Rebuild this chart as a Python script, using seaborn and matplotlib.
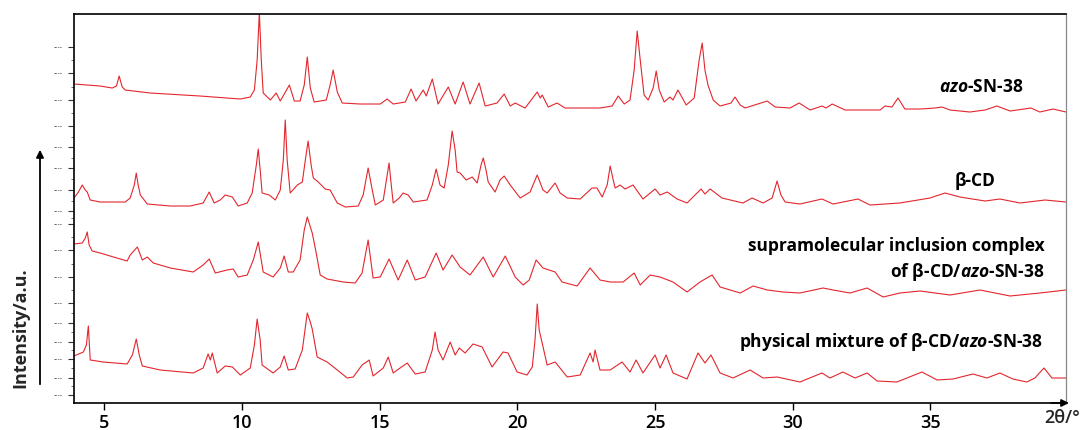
import matplotlib
matplotlib.use("Agg")
import matplotlib.pyplot as plt
import pandas as pd
import seaborn as sns

# ---- XRD patterns (2θ in degrees, intensity in counts) ----
two_theta_azo = [3.9, 4.85, 5.29, 5.44, 5.54, 5.65, 5.76, 6.67, 8.48, 9.94, 10.30, 10.45, 10.55, 10.63,
                 10.70, 10.77, 11.03, 11.24, 11.39, 11.72, 11.90, 12.11, 12.26, 12.37, 12.48, 12.62, 13.06,
                 13.20, 13.31, 13.46, 13.64, 14.29, 15.02, 15.27, 15.49, 15.93, 16.14, 16.32, 16.58, 16.69,
                 16.91, 17.12, 17.49, 17.74, 18.03, 18.28, 18.61, 18.83, 19.26, 19.52, 19.74, 19.92, 20.28,
                 20.72, 20.83, 20.90, 21.12, 21.44, 21.73, 23.00, 23.44, 23.66, 23.88, 24.09, 24.24, 24.35,
                 24.46, 24.60, 24.75, 24.93, 25.04, 25.15, 25.33, 25.54, 25.65, 25.83, 26.13, 26.42, 26.60,
                 26.71, 26.81, 26.92, 27.11, 27.36, 27.76, 27.90, 28.09, 28.27, 29.07, 29.36, 29.90, 30.23,
                 30.63, 31.06, 31.21, 31.43, 31.90, 33.17, 33.35, 33.60, 33.82, 34.07, 34.62, 35.16, 35.42,
                 35.71, 36.43, 36.98, 37.41, 37.89, 38.65, 38.97, 39.45, 39.92]
intensity_azo = [310, 290, 270, 290, 390, 280, 250, 220, 190, 160, 180, 250, 550, 1030,
                 550, 220, 150, 220, 140, 300, 140, 140, 300, 580, 270, 130, 150,
                 300, 450, 230, 120, 110, 110, 160, 110, 130, 260, 140, 250, 190,
                 360, 110, 280, 110, 330, 110, 320, 90, 120, 210, 90, 120, 70,
                 230, 170, 200, 80, 120, 70, 70, 90, 190, 110, 150, 450, 840,
                 550, 200, 150, 270, 440, 250, 130, 180, 150, 250, 100, 170, 550,
                 720, 450, 300, 150, 90, 120, 180, 100, 70, 140, 80, 70, 120,
                 50, 90, 70, 110, 50, 50, 90, 80, 170, 60, 60, 70, 80,
                 50, 30, 50, 90, 40, 70, 30, 60, 30]

two_theta_bcd = [3.9, 4.06, 4.20, 4.31, 4.38, 4.49, 4.85, 5.76, 5.94, 6.09, 6.16, 6.23, 6.31, 6.56, 7.40,
                 8.12, 8.59, 8.81, 8.99, 9.21, 9.39, 9.65, 9.86, 10.19, 10.37, 10.52, 10.59, 10.66, 10.73,
                 10.99, 11.21, 11.39, 11.50, 11.57, 11.64, 11.75, 12.01, 12.19, 12.30, 12.40, 12.51, 12.59,
                 12.77, 13.02, 13.20, 13.46, 13.75, 14.22, 14.40, 14.58, 14.73, 14.84, 15.13, 15.27, 15.34,
                 15.42, 15.49, 15.71, 15.85, 16.03, 16.22, 16.72, 16.91, 17.05, 17.19, 17.34, 17.49, 17.63,
                 17.74, 17.81, 17.92, 18.14, 18.36, 18.54, 18.68, 18.76, 18.86, 18.94, 19.19, 19.37, 19.52,
                 19.74, 20.10, 20.46, 20.72, 20.93, 21.08, 21.37, 21.55, 21.81, 22.28, 22.71, 22.89, 23.08,
                 23.26, 23.37, 23.48, 23.55, 23.73, 23.91, 24.20, 24.56, 25.00, 25.18, 25.44, 25.80, 26.16,
                 26.67, 26.81, 27.00, 27.43, 28.19, 28.52, 28.92, 29.25, 29.43, 29.57, 29.72, 30.26, 31.06,
                 31.46, 32.37, 32.80, 33.89, 34.98, 35.53, 36.07, 36.98, 37.52, 38.25, 39.16, 39.92]
intensity_bcd = [120, 180, 250, 200, 180, 100, 80, 80, 120, 250, 370, 250, 150, 60, 40,
                 40, 70, 180, 70, 100, 150, 130, 40, 70, 170, 450, 610, 400, 170,
                 150, 100, 200, 500, 900, 500, 170, 250, 280, 500, 690, 450, 320,
                 280, 210, 200, 70, 30, 40, 150, 420, 200, 50, 100, 350, 470,
                 250, 70, 120, 170, 150, 80, 100, 250, 410, 250, 220, 450, 790,
                 600, 380, 370, 300, 330, 270, 450, 520, 400, 280, 180, 300, 340,
                 250, 120, 180, 350, 200, 170, 270, 170, 120, 110, 220, 220, 130,
                 250, 440, 300, 220, 250, 210, 250, 110, 210, 150, 180, 110, 70,
                 210, 160, 210, 120, 70, 120, 70, 120, 290, 150, 80, 60, 110,
                 60, 110, 50, 70, 120, 170, 130, 90, 110, 70, 100, 80]

two_theta_complex = [3.9, 4.20, 4.31, 4.38, 4.45, 4.56, 4.85, 5.33, 5.83, 5.94, 6.20, 6.38, 6.56, 6.78,
                     7.40, 8.23, 8.59, 8.81, 9.03, 9.46, 9.68, 9.86, 10.19, 10.41, 10.59, 10.77, 11.13,
                     11.39, 11.53, 11.68, 11.86, 12.11, 12.26, 12.37, 12.55, 12.66, 12.84, 13.09, 13.68,
                     14.11, 14.36, 14.58, 14.76, 15.02, 15.34, 15.67, 16.00, 16.29, 16.65, 17.05, 17.30,
                     17.63, 17.92, 18.28, 18.76, 19.12, 19.56, 19.92, 20.21, 20.43, 20.68, 20.93, 21.37,
                     21.62, 22.17, 22.64, 23.00, 23.37, 23.84, 24.24, 24.46, 24.82, 25.18, 25.65, 26.16,
                     26.63, 27.07, 27.36, 28.09, 28.56, 29.07, 29.65, 30.26, 31.10, 31.46, 32.08, 32.70,
                     33.28, 33.89, 34.62, 35.71, 36.80, 37.89, 38.97, 39.92]
intensity_complex = [560, 570, 620, 680, 550, 490, 470, 430, 390, 450, 530, 400, 430, 370,
                     320, 280, 350, 410, 270, 300, 310, 230, 250, 400, 580, 280, 230,
                     320, 440, 280, 280, 400, 700, 830, 670, 520, 250, 210, 180,
                     170, 270, 600, 220, 230, 410, 200, 400, 200, 230, 470, 300,
                     450, 330, 250, 430, 230, 440, 230, 150, 200, 400, 320, 280,
                     180, 140, 320, 200, 180, 180, 270, 150, 250, 230, 180, 80,
                     180, 250, 130, 70, 140, 100, 80, 70, 120, 100, 70, 120,
                     30, 70, 90, 50, 100, 40, 70, 100]

two_theta_mix = [3.9, 4.24, 4.35, 4.42, 4.49, 4.96, 5.83, 6.02, 6.16, 6.27, 6.38, 7.03, 8.23, 8.59, 8.77,
                 8.85, 8.92, 9.10, 9.39, 9.65, 9.94, 10.30, 10.45, 10.55, 10.66, 10.73, 11.13, 11.39, 11.53,
                 11.68, 11.93, 12.19, 12.37, 12.48, 12.55, 12.73, 13.09, 13.46, 13.82, 14.04, 14.36, 14.62,
                 14.76, 15.13, 15.31, 15.49, 15.74, 16.00, 16.29, 16.65, 16.91, 17.01, 17.12, 17.30, 17.56,
                 17.74, 17.89, 18.10, 18.39, 18.72, 19.08, 19.48, 19.66, 19.99, 20.35, 20.54, 20.64, 20.72,
                 20.79, 20.90, 21.08, 21.37, 21.81, 22.28, 22.64, 22.75, 22.82, 23.00, 23.37, 23.80, 24.09,
                 24.31, 24.56, 25.00, 25.18, 25.40, 25.65, 26.16, 26.56, 26.81, 27.03, 27.36, 27.83, 28.45,
                 28.92, 29.43, 30.26, 31.06, 31.35, 31.82, 32.26, 32.70, 33.06, 33.78, 34.69, 35.24, 35.82,
                 36.54, 37.05, 37.52, 37.99, 38.50, 38.79, 39.12, 39.41, 39.92]
intensity_mix = [290, 330, 400, 590, 250, 230, 210, 300, 460, 300, 190, 150, 120, 170, 310,
                 250, 320, 120, 190, 180, 100, 170, 400, 660, 450, 200, 120, 180, 290,
                 150, 160, 350, 720, 630, 560, 280, 230, 150, 70, 80, 200, 250,
                 90, 170, 280, 120, 170, 220, 110, 130, 350, 530, 350, 250, 430,
                 300, 370, 320, 410, 380, 180, 330, 320, 130, 100, 180, 450, 810,
                 550, 420, 200, 230, 80, 100, 320, 230, 350, 150, 150, 230, 130,
                 250, 120, 300, 170, 300, 120, 60, 320, 220, 300, 120, 70, 150,
                 70, 80, 30, 120, 70, 130, 70, 120, 40, 30, 130, 50, 60,
                 110, 70, 120, 60, 30, 70, 170, 70, 70]

sample_names = ["azo-SN-38", "β-CD", "inclusion complex", "physical mixture"]
stack_offsets = [2880, 1930, 1030, 180]

x_ticks = [5, 10, 15, 20, 25, 30, 35]
y_major_ticks = [3560, 3300, 3030, 2770, 2560, 2350, 2130, 1920,
                 1790, 1530, 1260, 1000, 800, 610, 440, 250, 80]

# ---- long-form table of the stacked traces ----
frames = []
for name, tt, inten, off in zip(sample_names,
                                [two_theta_azo, two_theta_bcd, two_theta_complex, two_theta_mix],
                                [intensity_azo, intensity_bcd, intensity_complex, intensity_mix],
                                stack_offsets):
    frames.append(pd.DataFrame({"sample": name, "two_theta": tt,
                                "shifted": [v + off for v in inten]}))
patterns = pd.concat(frames, ignore_index=True)

sns.set_style("ticks")
plt.rcParams["font.family"] = ["Open Sans", "DejaVu Sans"]
plt.rcParams["mathtext.fontset"] = "custom"
plt.rcParams["mathtext.it"] = "Open Sans:italic:bold"
plt.rcParams["mathtext.rm"] = "Open Sans:bold"

RED = "#e3262d"

fig = plt.figure(figsize=(10.82, 4.30), dpi=100)
ax = fig.add_axes([0.0684, 0.0628, 0.9168, 0.9046])

for name in sample_names:
    sns.lineplot(data=patterns[patterns["sample"] == name], x="two_theta", y="shifted",
                 sort=False, estimator=None, color=RED, lw=0.8, ax=ax)

ax.set_xlim(3.9, 39.92)
ax.set_ylim(0, 3890)
ax.set_xlabel("")
ax.set_ylabel("")

# x axis
ax.set_xticks(x_ticks)
ax.tick_params(axis="x", which="major", length=5, width=1.0, direction="out",
               labelsize=13, pad=3, colors="black")
for lab in ax.get_xticklabels():
    lab.set_fontweight("semibold")

# y axis: stacked sub-scales with tiny marks
ax.set_yticks(y_major_ticks)
ax.set_yticklabels(["----"] * len(y_major_ticks))
minor = [(a + b) / 2 for a, b in zip(y_major_ticks[:-1], y_major_ticks[1:])]
ax.set_yticks(minor, minor=True)
ax.tick_params(axis="y", which="major", length=4, width=0.8, direction="out",
               labelsize=5, labelcolor="#333333", color="#333333", pad=4)
ax.tick_params(axis="y", which="minor", length=2.5, width=0.6, direction="out", color="#555555")

for side in ["left", "bottom", "top"]:
    ax.spines[side].set_color("black")
    ax.spines[side].set_linewidth(1.2)
ax.spines["right"].set_color("#888888")
ax.spines["right"].set_linewidth(0.9)

# arrow head on the 2θ axis
ax.annotate("", xy=(1.003, 0), xytext=(0.985, 0), xycoords="axes fraction",
            arrowprops=dict(arrowstyle="-|>", color="black", lw=1.2, mutation_scale=11,
                            shrinkA=0, shrinkB=0), annotation_clip=False)
fig.text(1062 / 1082, 0.028, "2θ/°", ha="center", va="center", fontsize=13, fontweight="semibold")

# intensity arrow and label
fig.add_artist(matplotlib.patches.FancyArrowPatch(
    (40 / 1082, (430 - 387) / 430), (40 / 1082, (430 - 147) / 430),
    transform=fig.transFigure, arrowstyle="-|>", mutation_scale=11, color="black", lw=1.3))
fig.text(20 / 1082, (430 - 328) / 430, "Intensity/a.u.", rotation=90, ha="center", va="center",
         fontsize=13, fontweight="bold")

# sample labels
lab_kw = dict(fontsize=12.5, fontweight="bold", color="black")
ax.text(36.83, 3160, r"$\mathit{azo}$-SN-38", ha="center", va="center", **lab_kw)
ax.text(36.61, 2220, "β-CD", ha="center", va="center", **lab_kw)
ax.text(39.16, 1570, "supramolecular inclusion complex", ha="right", va="center", **lab_kw)
ax.text(39.16, 1310, r"of β-CD/$\mathit{azo}$-SN-38", ha="right", va="center", **lab_kw)
ax.text(39.08, 610, r"physical mixture of β-CD/$\mathit{azo}$-SN-38", ha="right", va="center", **lab_kw)

fig.savefig("out.png", dpi=100)
